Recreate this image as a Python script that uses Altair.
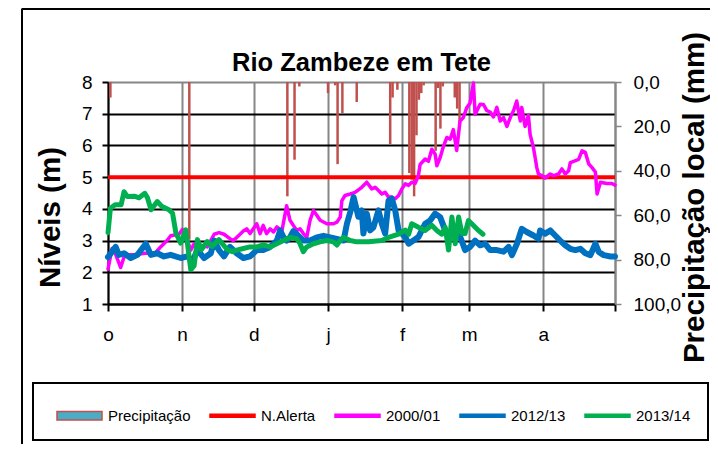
import altair as alt
import pandas as pd
import numpy as np

# ---------------- data (day 0 = 1 Oct, day 212 = 1 May) -------------
MONTH_TICKS = [0, 31, 61, 92, 123, 151, 182, 212]
MONTH_LABELS = ["o", "n", "d", "j", "f", "m", "a", ""]
LEVEL_TICKS = [1, 2, 3, 4, 5, 6, 7, 8]
PRECIP_TICKS = [0, 20, 40, 60, 80, 100]

ALERT_LEVEL = 5.0

Y2000_DAY = [0, 1.7, 3, 5.3, 7, 11, 15.5, 19.7, 22, 24.7, 26.2, 29.7, 31.1, 33.2, 34.6, 36, 38.8, 41.5,
             44.4, 46.4, 48.5, 51, 52.4, 53.8, 56.6, 58, 59.4, 62.2, 63.6, 64.9, 66.3, 67.8, 69.2, 70.6,
             72.7, 74.7, 76.1, 77.5, 78.9, 80.3, 81.7, 83.1, 84.5, 85.9, 87.3, 88.7, 91.5, 94.3, 95.7,
             97.1, 97.8, 99.1, 101.3, 103.3, 106.1, 108.2, 110.3, 111.7, 113.1, 114.5, 115.9, 117.3,
             118.7, 120.1, 121.5, 122.9, 124.3, 125.7, 127, 128.4, 129.8, 130.5, 132.6, 134, 135.4,
             136.8, 137.5, 138.9, 140.3, 141.7, 143.1, 144.4, 145.8, 147.2, 148.6, 150, 151.4, 152.8,
             153.5, 155.6, 157, 158.4, 159.8, 161.2, 162.6, 164, 165.4, 166.8, 168.2, 169.6, 170.9,
             172.4, 173, 174.4, 175.8, 176.5, 177.9, 178.6, 179.3, 180, 181.4, 182.8, 184.9, 186.3,
             188.4, 189.8, 191.2, 192.6, 193.3, 194.7, 196.8, 198.2, 199.6, 201, 202.4, 203.8, 204.5,
             205.9, 208.6, 210.7, 212]
Y2000_LVL = [2.1, 2.75, 2.6, 2.15, 2.55, 2.55, 2.6, 2.6, 2.8, 3.0, 3.15, 3.2, 3.35, 3.0, 2.7, 2.9, 2.85, 2.8,
             3.2, 3.25, 3.2, 3.06, 3.0, 3.1, 3.3, 3.37, 3.22, 3.53, 3.22, 3.48, 3.22, 3.37, 3.27, 3.43,
             3.3, 4.1, 3.64, 3.48, 3.32, 3.37, 3.22, 3.1, 3.64, 3.95, 3.8, 3.64, 3.53, 3.53, 3.58,
             3.74, 4.26, 4.42, 4.47, 4.52, 4.68, 4.84, 4.63, 4.68, 4.58, 4.47, 4.52, 4.37,
             4.37, 4.32, 4.42, 4.63, 4.79, 4.74, 4.84, 4.8, 5.05, 5.4, 5.57, 5.5, 5.88,
             5.72, 5.36, 5.62, 5.98, 6.25, 6.2, 6.5, 5.84, 6.77, 6.88, 7.19, 7.34, 7.97,
             6.98, 7.3, 7.29, 7.1, 7.05, 6.9, 7.2, 6.77, 6.88, 6.6, 6.88, 7.1, 7.4,
             6.77, 7.2, 6.6, 6.95, 6.35, 5.93, 5.62, 5.3, 5.1, 5.05, 4.97, 5.1, 5.05,
             5.1, 5.26, 5.1, 5.2, 5.46, 5.5, 5.56, 5.83, 5.78, 5.42, 5.3, 5.16, 4.47,
             4.84, 4.8, 4.8, 4.75]

Y2012_DAY = [0, 3.2, 4.5, 6.7, 9.5, 12.3, 15.8, 17.9, 20.6, 23.4, 26.2, 30.4, 33.2, 35.3, 37.4, 40.2, 43,
             44.4, 46.4, 48.5, 51, 53.8, 56.6, 59.4, 62.2, 64.9, 67.8, 70.6, 72, 73.4, 74.7, 76.1, 77.5,
             78.9, 81.7, 84.5, 87.3, 90.1, 92.9, 95.7, 98.5, 99.9, 101.3, 102.7, 104.7, 106.1, 106.8,
             108.2, 109.6, 111, 113.1, 114.5, 115.9, 117.3, 118.7, 120.1, 121.5, 122.9, 124.3, 125.7,
             127.7, 129.8, 132.6, 134.7, 136.8, 138.9, 141, 143.1, 145.2, 147.3, 149.3, 151.4, 153.5,
             155.6, 157.7, 159.8, 162.6, 165.4, 167.5, 168.9, 171, 173, 175.1, 177.9, 180, 180.7, 182.8,
             184.9, 187, 189.1, 191.2, 193.3, 195.4, 197.5, 199.6, 201.7, 203.8, 205.2, 207.3, 210.1, 212]
Y2012_LVL = [2.48, 2.8, 2.55, 2.6, 2.45, 2.55, 2.9, 2.55, 2.6, 2.5, 2.55, 2.45, 2.5, 2.35, 2.7, 2.45, 2.6,
             3.0, 2.7, 2.5, 2.8, 2.6, 2.45, 2.5, 2.7, 2.7, 2.8, 3.0, 3.32, 3.1, 3.0, 3.1, 3.3,
             3.2, 3.0, 3.0, 3.1, 3.15, 3.1, 3.05, 3.0, 3.53, 3.9, 4.37, 3.75, 3.95, 3.22,
             3.85, 3.32, 3.42, 3.95, 3.53, 3.22, 4.26, 4.32, 3.95, 3.32, 3.22, 3.11, 2.9,
             3.0, 3.11, 3.53, 3.63, 3.85, 3.74, 3.32, 3.11, 3.22, 3.11, 2.7, 2.8, 3.0,
             2.85, 2.9, 2.7, 2.7, 2.65, 2.8, 2.54, 2.9, 3.37, 3.27, 3.16, 3.06, 3.32, 3.22,
             3.32, 3.16, 3.0, 2.85, 2.74, 2.7, 2.74, 2.6, 2.54, 2.9, 2.64, 2.54, 2.5, 2.5]

Y2013_DAY = [0, 1, 3, 5.5, 6.7, 8, 11, 13, 15.4, 16.5, 18, 20.6, 22.6, 25.5, 27, 28.4, 30.4, 32.5, 34.6, 36,
             37.4, 39, 41.5, 43.5, 46.4, 49.9, 52, 53.8, 56.6, 59.4, 62.2, 64.9, 67.8, 70.6, 73.4, 76.1,
             78.9, 80.3, 81.7, 83.1, 85.9, 88.7, 91.5, 94.3, 95.7, 97.1, 98.5, 101.3, 104, 108.9, 114.5,
             117.3, 121.5, 124.3, 125.7, 127, 129.8, 132.6, 135.4, 137.5, 139.6, 141, 142.4, 143.8, 145.2,
             146.6, 148, 149.3, 150.7, 152.1, 154.9, 156.8]
Y2013_LVL = [3.25, 4.02, 4.13, 4.13, 4.54, 4.39, 4.4, 4.35, 4.49, 4.35, 3.97, 4.23, 4.07, 3.97, 3.86, 3.24,
             2.92, 3.34, 2.08, 2.2, 3.03, 2.71, 2.97, 2.82, 3.03, 2.71, 2.65, 2.7, 2.75, 2.8, 2.8, 2.86,
             2.8, 2.9, 3.0, 3.1, 3.06, 2.9, 2.65, 2.8, 2.9, 2.96, 3.0, 2.96, 2.86, 3.0, 3.1, 3.0, 2.96,
             2.96, 3.0, 3.1, 3.2, 3.33, 3.2, 3.53, 3.42, 3.32, 3.48, 3.32, 3.2, 3.42, 2.7, 3.74, 2.9,
             3.74, 3.22, 3.22, 3.63, 3.53, 3.32, 3.2]

PRECIP_DAY = [1, 34, 75, 78, 80, 92, 95, 96, 98, 104, 118, 119, 121, 126, 127, 128, 129, 130, 131, 132,
              137, 138, 139, 140, 145, 146, 147]
PRECIP_MM = [7, 71, 51.5, 35, 2, 5, 1.5, 37, 14, 9, 28, 7, 3.5, 41, 44, 51.5, 24, 8, 5, 1.5,
             31, 2.7, 21, 2, 7, 12, 20]

SERIES = ["Precipitação", "N.Alerta", "2000/01", "2012/13", "2013/14"]
SERIES_FILL = ["#4BACC6", "#FF0000", "#FF00FF", "#0070C0", "#00B050"]
SERIES_STROKE = ["#C0504D", "#FF0000", "#FF00FF", "#0070C0", "#00B050"]
RECT_PATH = "M-1,-0.19H1V0.19H-1Z"
LINE_PATH = "M-1,-0.07H1V0.07H-1Z"
SERIES_SHAPE = [RECT_PATH, LINE_PATH, LINE_PATH, LINE_PATH, LINE_PATH]

# ---------------- styling ----------------
FONT = "Liberation Sans, Arial, sans-serif"
GRAY = "#868686"

x_axis = alt.Axis(
    values=MONTH_TICKS,
    labelExpr=f"{MONTH_LABELS}[indexof({MONTH_TICKS}, datum.value)]",
    title=None, grid=True, gridColor=GRAY, gridWidth=2,
    domainColor="black", domainWidth=2, tickColor="black", tickWidth=2, tickSize=7,
    labelFont=FONT, labelFontSize=19, labelColor="black", labelPadding=14, labelAlign="center",
)
X = alt.X("dia:Q", scale=alt.Scale(domain=[0, 212], nice=False, zero=False, padding=0), axis=x_axis)

y_axis = alt.Axis(
    orient="left", values=LEVEL_TICKS, format="d",
    grid=True, gridColor={"condition": {"test": "datum.value == 8", "value": GRAY}, "value": "black"},
    gridWidth=2,
    domainColor="black", domainWidth=2, tickColor="black", tickWidth=2, tickSize=6,
    labelFont=FONT, labelFontSize=19, labelColor="black", labelPadding=10,
    title="Níveis (m)", titleFont=FONT, titleFontSize=29.5, titleFontWeight="bold", titleColor="black",
    titleAngle=270, titleAlign="center", titleBaseline="alphabetic", titleX=-49, titleY=135,
)
Y = alt.Y("nivel:Q", scale=alt.Scale(domain=[1, 8], nice=False, zero=False), axis=y_axis)

y2_axis = alt.Axis(
    orient="right", values=PRECIP_TICKS,
    labelExpr="replace(format(datum.value, '.1f'), '.', ',')",
    grid=False, domainColor=GRAY, domainWidth=2, tickColor=GRAY, tickWidth=1.5, tickSize=6,
    labelFont=FONT, labelFontSize=19, labelColor="black", labelPadding=12,
    title="Precipitação  local (mm)", titleFont=FONT, titleFontSize=29.5, titleFontWeight="bold",
    titleColor="black", titleAngle=270, titleAlign="center", titleBaseline="alphabetic",
    titleX=88, titleY=115,
)

precip_df = pd.DataFrame({"dia": PRECIP_DAY, "mm": PRECIP_MM})
alert_df = pd.DataFrame({"nivel": [ALERT_LEVEL]})
y2000_df = pd.DataFrame({"dia": Y2000_DAY, "nivel": Y2000_LVL})
y2012_df = pd.DataFrame({"dia": Y2012_DAY, "nivel": Y2012_LVL})
y2013_df = pd.DataFrame({"dia": Y2013_DAY, "nivel": Y2013_LVL})
legend_df = pd.DataFrame({"serie": SERIES, "dia": [np.nan] * 5, "nivel": [np.nan] * 5})

bars = alt.Chart(precip_df).mark_bar(width=2.5, color="#C0504D").encode(
    x=X,
    y=alt.Y("mm:Q", scale=alt.Scale(domain=[0, 100], reverse=True, nice=False, zero=True), axis=y2_axis),
)

alert = alt.Chart(alert_df).mark_rule(color="#FF0000", strokeWidth=4).encode(y=Y)


def series_line(df, color, width):
    return alt.Chart(df).mark_line(color=color, strokeWidth=width, strokeJoin="round",
                                   strokeCap="round").encode(x=X, y=Y)


legend = alt.Legend(
    title=None, orient="none", legendX=-52, legendY=310, direction="horizontal", columns=5,
    symbolSize=2025, symbolStrokeWidth=1.5, symbolOpacity=1,
    labelFont=FONT, labelFontSize=15, labelColor="black", labelOffset=5, labelLimit=0,
    columnPadding=16, padding=0,
)
legend_pts = alt.Chart(legend_df).mark_point(filled=True).encode(
    x=X, y=Y,
    fill=alt.Fill("serie:N", scale=alt.Scale(domain=SERIES, range=SERIES_FILL), legend=legend),
    stroke=alt.Stroke("serie:N", scale=alt.Scale(domain=SERIES, range=SERIES_STROKE), legend=legend),
    shape=alt.Shape("serie:N", scale=alt.Scale(domain=SERIES, range=SERIES_SHAPE), legend=legend),
)

levels = alt.layer(
    alert,
    series_line(y2000_df, "#FF00FF", 3.5),
    series_line(y2012_df, "#0070C0", 6),
    series_line(y2013_df, "#00B050", 5),
    legend_pts,
)

# decorative frame lines and legend box (pixel offsets from the plot origin)
frame_top = alt.Chart(alert_df).mark_rule(color="black", strokeWidth=3).encode(
    x=alt.value(-86), x2=alt.value(605), y=alt.value(-73.5))
frame_left = alt.Chart(alert_df).mark_rule(color="black", strokeWidth=2).encode(
    x=alt.value(-86), y=alt.value(-73.5), y2=alt.value(380))
legend_box = alt.Chart(alert_df).mark_rect(fillOpacity=0, stroke="black", strokeWidth=2).encode(
    x=alt.value(-75), x2=alt.value(600), y=alt.value(301), y2=alt.value(358))

chart = alt.layer(bars, levels, frame_top, frame_left, legend_box).resolve_scale(
    y="independent"
).properties(
    width=507, height=222,
    autosize=alt.AutoSizeParams(type="none"),
    padding={"left": 100, "top": 74, "right": 95, "bottom": 140},
    title=alt.TitleParams(
        text="Rio  Zambeze em Tete", font=FONT, fontSize=25.5, fontWeight="bold", color="black",
        anchor="middle", frame="group", baseline="alphabetic", offset=-89,
    ),
    background="white",
).configure_view(stroke=None)

chart.save("out.html", embed_options={"renderer": "svg", "actions": False})
